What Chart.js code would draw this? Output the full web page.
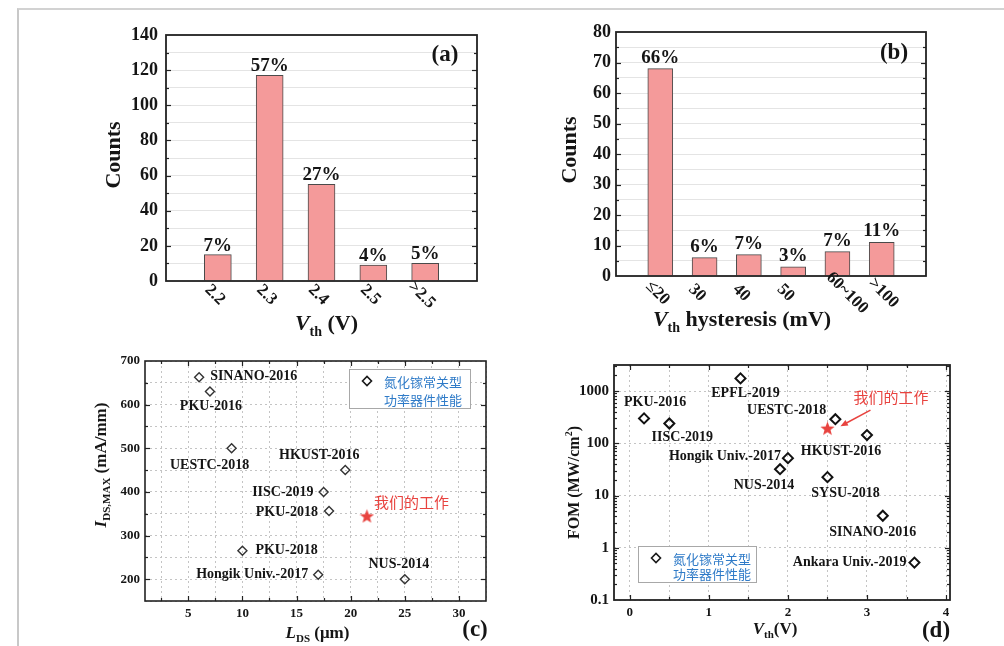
<!DOCTYPE html>
<html><head><meta charset="utf-8">
<script src="https://cdn.jsdelivr.net/npm/chart.js@4.4.1/dist/chart.umd.min.js"></script>
<style>
html,body{margin:0;padding:0;background:#fff;}
body{width:1004px;height:646px;overflow:hidden;position:relative;}
canvas{position:absolute;left:0;top:0;}
#frame{position:absolute;left:17px;top:8px;width:990px;height:642px;border-top:2px solid #d2d2d2;border-left:2px solid #c8c8c8;}
</style></head>
<body>
<div id="frame"></div>
<canvas id="ca" width="1004" height="646"></canvas>
<canvas id="cb" width="1004" height="646"></canvas>
<canvas id="cc" width="1004" height="646"></canvas>
<canvas id="cd" width="1004" height="646"></canvas>
<script>
// ---------------- DATA ----------------
const vthCategories = ['2.2', '2.3', '2.4', '2.5', '>2.5'];
const vthCounts = [15, 117, 55, 9, 10];
const vthPercents = ['7%', '57%', '27%', '4%', '5%'];
const vthYTicks = [0, 20, 40, 60, 80, 100, 120, 140];

const hystCategories = ['≤20', '30', '40', '50', '60~100', '>100'];
const hystCounts = [68, 6, 7, 3, 8, 11];
const hystPercents = ['66%', '6%', '7%', '3%', '7%', '11%'];
const hystYTicks = [0, 10, 20, 30, 40, 50, 60, 70, 80];

const refNamesC = ['SINANO-2016', 'PKU-2016', 'UESTC-2018', 'HKUST-2016', 'IISC-2019', 'PKU-2018', 'PKU-2018', 'Hongik Univ.-2017', 'NUS-2014'];
const refLdsC = [6, 7, 9, 19.5, 17.5, 18, 10, 17, 25];
const refIdsC = [663, 630, 500, 450, 400, 356, 265, 210, 200];
const ourLdsC = [21.5];
const ourIdsC = [345];
const ldsTicks = [5, 10, 15, 20, 25, 30];
const idsTicks = [200, 300, 400, 500, 600, 700];

const refNamesD = ['PKU-2016', 'IISC-2019', 'EPFL-2019', 'UESTC-2018', 'HKUST-2016', 'Hongik Univ.-2017', 'NUS-2014', 'SYSU-2018', 'SINANO-2016', 'Ankara Univ.-2019'];
const refVthD = [0.18, 0.5, 1.4, 2.6, 3.0, 2.0, 1.9, 2.5, 3.2, 3.6];
const refFomD = [300, 240, 1750, 290, 144, 52, 32, 22.5, 4.1, 0.52];
const ourVthD = [2.5];
const ourFomD = [195];
const vthTicksD = [0, 1, 2, 3, 4];
const fomTicks = [0.1, 1, 10, 100, 1000];
const fomTickLabels = ['0.1', '1', '10', '100', '1000'];

const ourWorkLabel = '我们的工作';
const legendLines = ['氮化镓常关型', '功率器件性能'];

// --------------- STYLE (label placement: [align, dx, dy]) ---------------
const labelPlaceC = [['left', 11, -1], ['center', 1, 15], ['center', -22, 17], ['center', -26, -15], ['right', -10, 0], ['right', -11, 1], ['left', 13, 0], ['right', -10, 0], ['center', -6, -15]];
const labelPlaceD = [['center', 11, -16], ['center', 13, 14], ['center', 5, 15], ['right', -9, -9], ['center', -26, 16], ['right', -7, -2], ['center', -16, 16], ['center', 18, 16], ['center', -10, 17], ['right', -8, 0]];

const SERIF = '"Liberation Serif", "Times New Roman", serif';
const CJK = '"Noto Sans CJK SC", "Noto Sans", sans-serif';
const BAR_FILL = '#f49a9a';
const BAR_EDGE = '#4a4a4a';
const RED = '#e8433f';
const BLUE = '#2f7bc8';
const INK = '#151515';

function bf(px, italic) { return (italic ? 'italic ' : '') + 'bold ' + px + 'px ' + SERIF; }

function range(a, b, s) { const r = []; for (let v = a; v <= b + 1e-9; v += s) r.push(+v.toFixed(4)); return r; }

function drawRich(ctx, x, y, segs, rot) {
  ctx.save();
  ctx.translate(x, y);
  ctx.rotate(rot || 0);
  let total = 0;
  segs.forEach(s => { ctx.font = s.f; s.w = ctx.measureText(s.t).width; total += s.w; });
  let cx = -total / 2;
  ctx.textAlign = 'left';
  ctx.textBaseline = 'alphabetic';
  const base = segs[0].base;
  segs.forEach(s => { ctx.font = s.f; ctx.fillStyle = s.c || INK; ctx.fillText(s.t, cx, base + (s.dy || 0)); cx += s.w; });
  ctx.restore();
}

function starCanvas(size, color) {
  const c = document.createElement('canvas');
  c.width = c.height = size;
  const g = c.getContext('2d');
  g.fillStyle = color;
  g.beginPath();
  for (let i = 0; i < 10; i++) {
    const r = i % 2 ? size * 0.21 : size * 0.5;
    const a = -Math.PI / 2 + i * Math.PI / 5;
    g.lineTo(size / 2 + r * Math.cos(a), size / 2 + r * Math.sin(a) + size * 0.05);
  }
  g.closePath();
  g.fill();
  return c;
}

function drawFrameTicks(chart, o) {
  const ctx = chart.ctx, a = chart.chartArea;
  const xs = chart.scales.x, ys = chart.scales.y;
  ctx.save();
  ctx.strokeStyle = '#222';
  ctx.lineWidth = 1.2;
  const tick = (vals, len, axis) => {
    vals.forEach(v => {
      if (axis === 'y') {
        const p = Math.round(ys.getPixelForValue(v)) + 0.5;
        if (p < a.top + 1 || p > a.bottom - 1) return;
        ctx.beginPath(); ctx.moveTo(a.left, p); ctx.lineTo(a.left + len, p); ctx.stroke();
        ctx.beginPath(); ctx.moveTo(a.right, p); ctx.lineTo(a.right - len, p); ctx.stroke();
      } else {
        const p = Math.round(xs.getPixelForValue(v)) + 0.5;
        if (p < a.left + 1 || p > a.right - 1) return;
        ctx.beginPath(); ctx.moveTo(p, a.bottom); ctx.lineTo(p, a.bottom - len); ctx.stroke();
        ctx.beginPath(); ctx.moveTo(p, a.top); ctx.lineTo(p, a.top + len); ctx.stroke();
      }
    });
  };
  if (o.majorY) tick(o.majorY, 5, 'y');
  if (o.minorY) tick(o.minorY, 3, 'y');
  if (o.majorX) tick(o.majorX, 5, 'x');
  if (o.minorX) tick(o.minorX, 3, 'x');
  ctx.strokeStyle = '#222';
  ctx.lineWidth = o.frameWidth || 1.6;
  ctx.strokeRect(a.left, a.top, a.right - a.left, a.bottom - a.top);
  ctx.restore();
}

const fixY = w => function (s) { s.width = w; };
const fixX = h => function (s) { s.height = h; };

Chart.defaults.font.family = SERIF;
Chart.defaults.color = INK;

function baseOpts(padding) {
  return {
    responsive: false, animation: false, devicePixelRatio: 1,
    layout: { padding },
    plugins: { legend: { display: false }, tooltip: { enabled: false } },
    events: []
  };
}

// ---------------- BAR CHARTS (a), (b) ----------------
function barChart(id, cats, counts, percents, yMax, majorTicks, minorStep, padding, barW, cfg) {
  const opts = baseOpts(padding);
  opts.scales = {
    x: {
      type: 'linear', min: 0, max: cats.length + 1, offset: false,
      grid: { display: false, offset: false }, border: { display: false },
      ticks: { display: false }, afterFit: fixX(40)
    },
    y: {
      type: 'linear', min: 0, max: yMax,
      afterBuildTicks: s => { s.ticks = range(0, yMax, minorStep).map(v => ({ value: v })); },
      ticks: {
        autoSkip: false, padding: cfg.tickPad, font: { size: 18, weight: 'bold' }, color: INK,
        callback: v => majorTicks.includes(v) ? String(v) : ''
      },
      grid: { color: '#e4e4e4', lineWidth: 1, drawTicks: false },
      border: { display: false },
      afterFit: fixY(60)
    }
  };
  const plugin = {
    id: 'deco_' + id,
    afterDatasetsDraw(chart) {
      const ctx = chart.ctx, a = chart.chartArea;
      const xs = chart.scales.x, ys = chart.scales.y;
      const minor = range(0, yMax, minorStep).filter(v => !majorTicks.includes(v));
      drawFrameTicks(chart, { majorY: majorTicks, minorY: minor, frameWidth: 1.8 });
      ctx.save();
      // percent labels
      ctx.font = bf(19); ctx.fillStyle = INK; ctx.textAlign = 'center'; ctx.textBaseline = 'middle';
      percents.forEach((p, i) => {
        ctx.fillText(p, xs.getPixelForValue(i + 1), ys.getPixelForValue(counts[i]) - cfg.pctGap);
      });
      // rotated category labels
      ctx.font = bf(17);
      cats.forEach((c, i) => {
        ctx.save();
        const w = ctx.measureText(c).width;
        ctx.translate(xs.getPixelForValue(i + 1) + cfg.labDx + cfg.labK * w, a.bottom + cfg.labDy);
        ctx.rotate(Math.PI / 4);
        ctx.textAlign = 'center'; ctx.textBaseline = 'middle';
        ctx.fillText(c, 0, 0);
        ctx.restore();
      });
      ctx.restore();
      const mid = (a.left + a.right) / 2, midY = (a.top + a.bottom) / 2;
      // axis titles
      drawRich(ctx, mid + cfg.xtDx, a.bottom + cfg.xtDy, cfg.xTitle);
      drawRich(ctx, a.left + cfg.ytDx, midY + cfg.ytDy, [{ t: 'Counts', f: bf(22), base: 8 }], -Math.PI / 2);
      // panel letter
      ctx.save();
      ctx.font = bf(23); ctx.fillStyle = INK; ctx.textAlign = 'center'; ctx.textBaseline = 'middle';
      ctx.fillText(cfg.letter, a.right + cfg.letDx, a.top + cfg.letDy);
      ctx.restore();
    }
  };
  return new Chart(document.getElementById(id), {
    type: 'bar',
    data: {
      datasets: [{
        data: counts.map((v, i) => ({ x: i + 1, y: v })),
        backgroundColor: BAR_FILL, borderColor: BAR_EDGE, borderWidth: 1, barThickness: barW
      }]
    },
    options: opts,
    plugins: [plugin]
  });
}

barChart('ca', vthCategories, vthCounts, vthPercents, 140, vthYTicks, 10,
  { left: 106, right: 527, top: 35, bottom: 325 }, 27,
  {
    tickPad: 8, pctGap: 9, labDx: -2, labK: -0.05, labDy: 14, letter: '(a)', letDx: -32, letDy: 20,
    xtDx: 5, xtDy: 41, ytDx: -54, ytDy: -3,
    xTitle: [{ t: 'V', f: bf(22, true), base: 8 }, { t: 'th', f: bf(14), dy: 6 }, { t: ' (V)', f: bf(22) }]
  });

barChart('cb', hystCategories, hystCounts, hystPercents, 80, hystYTicks, 5,
  { left: 556, right: 78, top: 32, bottom: 330 }, 25,
  {
    tickPad: 5, pctGap: 11, labDx: -16, labK: 0.5, labDy: 17, letter: '(b)', letDx: -32, letDy: 21,
    xtDx: -29, xtDy: 42, ytDx: -48, ytDy: -4,
    xTitle: [{ t: 'V', f: bf(22, true), base: 8 }, { t: 'th', f: bf(14), dy: 6 }, { t: ' hysteresis (mV)', f: bf(22) }]
  });

// ---------------- SCATTER CHARTS (c), (d) ----------------
function drawLegendBox(ctx, x, y, w, h, lineGap) {
  ctx.save();
  ctx.fillStyle = '#fff';
  ctx.fillRect(x, y, w, h);
  ctx.strokeStyle = '#a8a8a8'; ctx.lineWidth = 1;
  ctx.strokeRect(x + 0.5, y + 0.5, w, h);
  const cx = x + 18, cy = y + 12, r = 4.5;
  ctx.strokeStyle = '#1a1a1a'; ctx.lineWidth = 1.6;
  ctx.beginPath();
  ctx.moveTo(cx - r, cy); ctx.lineTo(cx, cy - r); ctx.lineTo(cx + r, cy); ctx.lineTo(cx, cy + r);
  ctx.closePath(); ctx.stroke();
  ctx.fillStyle = BLUE; ctx.font = '13px ' + CJK; ctx.textAlign = 'left'; ctx.textBaseline = 'middle';
  ctx.fillText(legendLines[0], x + 35, y + 13);
  ctx.fillText(legendLines[1], x + 35, y + 13 + lineGap);
  ctx.restore();
}

function drawPointLabels(chart, names, places) {
  const ctx = chart.ctx;
  const meta = chart.getDatasetMeta(0);
  ctx.save();
  ctx.font = bf(14); ctx.fillStyle = INK; ctx.textBaseline = 'middle';
  names.forEach((n, i) => {
    const el = meta.data[i];
    const [al, dx, dy] = places[i];
    ctx.textAlign = al;
    ctx.fillText(n, el.x + dx, el.y + dy);
  });
  ctx.restore();
}

const star = starCanvas(15, RED);

// (c)
const minorLdsC = range(2.5, 32.5, 5);
const minorIdsC = range(150, 650, 100);
new Chart(document.getElementById('cc'), {
  type: 'scatter',
  data: {
    datasets: [
      { data: refLdsC.map((x, i) => ({ x, y: refIdsC[i] })), pointStyle: 'rectRot', radius: 4.5, borderColor: '#333', backgroundColor: 'rgba(0,0,0,0)', borderWidth: 1.4 },
      { data: ourLdsC.map((x, i) => ({ x, y: ourIdsC[i] })), pointStyle: star, radius: 7 }
    ]
  },
  options: Object.assign(baseOpts({ left: 85, right: 518, top: 361, bottom: 5 }), {
    scales: {
      x: {
        type: 'linear', min: 1, max: 32.5,
        afterBuildTicks: s => { s.ticks = range(2.5, 32.5, 2.5).map(v => ({ value: v })); },
        ticks: { autoSkip: false, maxRotation: 0, padding: 5, font: { size: 13, weight: 'bold' }, color: INK, callback: v => ldsTicks.includes(v) ? String(v) : '' },
        grid: { color: '#c4c4c4', lineWidth: 1, drawTicks: false },
        border: { display: false, dash: [2, 3] },
        afterFit: fixX(40)
      },
      y: {
        type: 'linear', min: 150, max: 700,
        afterBuildTicks: s => { s.ticks = range(150, 700, 50).map(v => ({ value: v })); },
        ticks: { autoSkip: false, padding: 5, font: { size: 13, weight: 'bold' }, color: INK, callback: v => idsTicks.includes(v) ? String(v) : '' },
        grid: { color: '#c4c4c4', lineWidth: 1, drawTicks: false },
        border: { display: false, dash: [2, 3] },
        afterFit: fixY(60)
      }
    }
  }),
  plugins: [{
    id: 'decoC',
    afterDatasetsDraw(chart) {
      const ctx = chart.ctx, a = chart.chartArea;
      drawFrameTicks(chart, { majorX: ldsTicks, minorX: minorLdsC, majorY: idsTicks, minorY: minorIdsC, frameWidth: 1.6 });
      drawPointLabels(chart, refNamesC, labelPlaceC);
      const s = chart.getDatasetMeta(1).data[0];
      ctx.save();
      ctx.font = '15px ' + CJK; ctx.fillStyle = RED; ctx.textAlign = 'left'; ctx.textBaseline = 'middle';
      ctx.fillText(ourWorkLabel, s.x + 7, s.y - 14);
      ctx.restore();
      drawLegendBox(ctx, a.right - 137, a.top + 8, 121, 39, 18);
      const mid = (a.left + a.right) / 2, midY = (a.top + a.bottom) / 2;
      drawRich(ctx, mid + 2, a.bottom + 31, [{ t: 'L', f: bf(17, true), base: 6 }, { t: 'DS', f: bf(11), dy: 4 }, { t: ' (μm)', f: bf(17) }]);
      drawRich(ctx, a.left - 45, midY - 16, [{ t: 'I', f: bf(17, true), base: 6 }, { t: 'DS,MAX', f: bf(11), dy: 4 }, { t: ' (mA/mm)', f: bf(17) }], -Math.PI / 2);
      ctx.save();
      ctx.font = bf(23); ctx.fillStyle = INK; ctx.textAlign = 'center'; ctx.textBaseline = 'middle';
      ctx.fillText('(c)', a.right - 11, a.bottom + 29);
      ctx.restore();
    }
  }]
});

// (d)
const minorVthD = range(0.5, 3.5, 1);
const minorFom = [];
[0.1, 1, 10, 100, 1000].forEach(d => { for (let k = 2; k <= 9; k++) minorFom.push(+(d * k).toPrecision(3)); });
new Chart(document.getElementById('cd'), {
  type: 'scatter',
  data: {
    datasets: [
      { data: refVthD.map((x, i) => ({ x, y: refFomD[i] })), pointStyle: 'rectRot', radius: 5, borderColor: '#111', backgroundColor: 'rgba(0,0,0,0)', borderWidth: 2 },
      { data: ourVthD.map((x, i) => ({ x, y: ourFomD[i] })), pointStyle: star, radius: 7 }
    ]
  },
  options: Object.assign(baseOpts({ left: 554, right: 54, top: 365, bottom: 6 }), {
    scales: {
      x: {
        type: 'linear', min: -0.2, max: 4.05,
        afterBuildTicks: s => { s.ticks = range(0, 4, 0.5).map(v => ({ value: v })); },
        ticks: { autoSkip: false, maxRotation: 0, padding: 5, font: { size: 13, weight: 'bold' }, color: INK, callback: v => vthTicksD.includes(v) ? String(v) : '' },
        grid: { color: '#c4c4c4', lineWidth: 1, drawTicks: false },
        border: { display: false, dash: [2, 3] },
        afterFit: fixX(40)
      },
      y: {
        type: 'logarithmic', min: 0.1, max: 3162,
        afterBuildTicks: s => { s.ticks = fomTicks.map(v => ({ value: v })); },
        ticks: { autoSkip: false, padding: 5, font: { size: 15, weight: 'bold' }, color: INK, callback: (v) => { const k = fomTicks.findIndex(t => Math.abs(t - v) / t < 1e-6); return k >= 0 ? fomTickLabels[k] : ''; } },
        grid: { color: '#c4c4c4', lineWidth: 1, drawTicks: false },
        border: { display: false, dash: [2, 3] },
        afterFit: fixY(60)
      }
    }
  }),
  plugins: [{
    id: 'decoD',
    afterDatasetsDraw(chart) {
      const ctx = chart.ctx, a = chart.chartArea;
      drawFrameTicks(chart, { majorX: vthTicksD, minorX: minorVthD, majorY: fomTicks, minorY: minorFom, frameWidth: 1.8 });
      drawPointLabels(chart, refNamesD, labelPlaceD);
      const s = chart.getDatasetMeta(1).data[0];
      ctx.save();
      ctx.font = '15px ' + CJK; ctx.fillStyle = RED; ctx.textAlign = 'left'; ctx.textBaseline = 'middle';
      ctx.fillText(ourWorkLabel, s.x + 26, s.y - 31);
      // arrow
      const x0 = s.x + 43, y0 = s.y - 18, x1 = s.x + 13, y1 = s.y - 2;
      ctx.strokeStyle = RED; ctx.fillStyle = RED; ctx.lineWidth = 1.5;
      ctx.beginPath(); ctx.moveTo(x0, y0); ctx.lineTo(x1 + 5, y1 - 2.7); ctx.stroke();
      const ang = Math.atan2(y1 - y0, x1 - x0);
      ctx.beginPath();
      ctx.moveTo(x1, y1);
      ctx.lineTo(x1 - 8 * Math.cos(ang - 0.4), y1 - 8 * Math.sin(ang - 0.4));
      ctx.lineTo(x1 - 8 * Math.cos(ang + 0.4), y1 - 8 * Math.sin(ang + 0.4));
      ctx.closePath(); ctx.fill();
      ctx.restore();
      drawLegendBox(ctx, a.left + 24, a.bottom - 54, 118, 36, 15);
      const mid = (a.left + a.right) / 2, midY = (a.top + a.bottom) / 2;
      drawRich(ctx, mid - 7, a.bottom + 28, [{ t: 'V', f: bf(17, true), base: 6 }, { t: 'th', f: bf(11), dy: 4 }, { t: '(V)', f: bf(17) }]);
      drawRich(ctx, a.left - 41, midY, [{ t: 'FOM (MW/cm', f: bf(16), base: 6 }, { t: '2', f: bf(10), dy: -7 }, { t: ')', f: bf(16) }], -Math.PI / 2);
      ctx.save();
      ctx.font = bf(23); ctx.fillStyle = INK; ctx.textAlign = 'center'; ctx.textBaseline = 'middle';
      ctx.fillText('(d)', a.right - 14, a.bottom + 31);
      ctx.restore();
    }
  }]
});
</script>
</body></html>
